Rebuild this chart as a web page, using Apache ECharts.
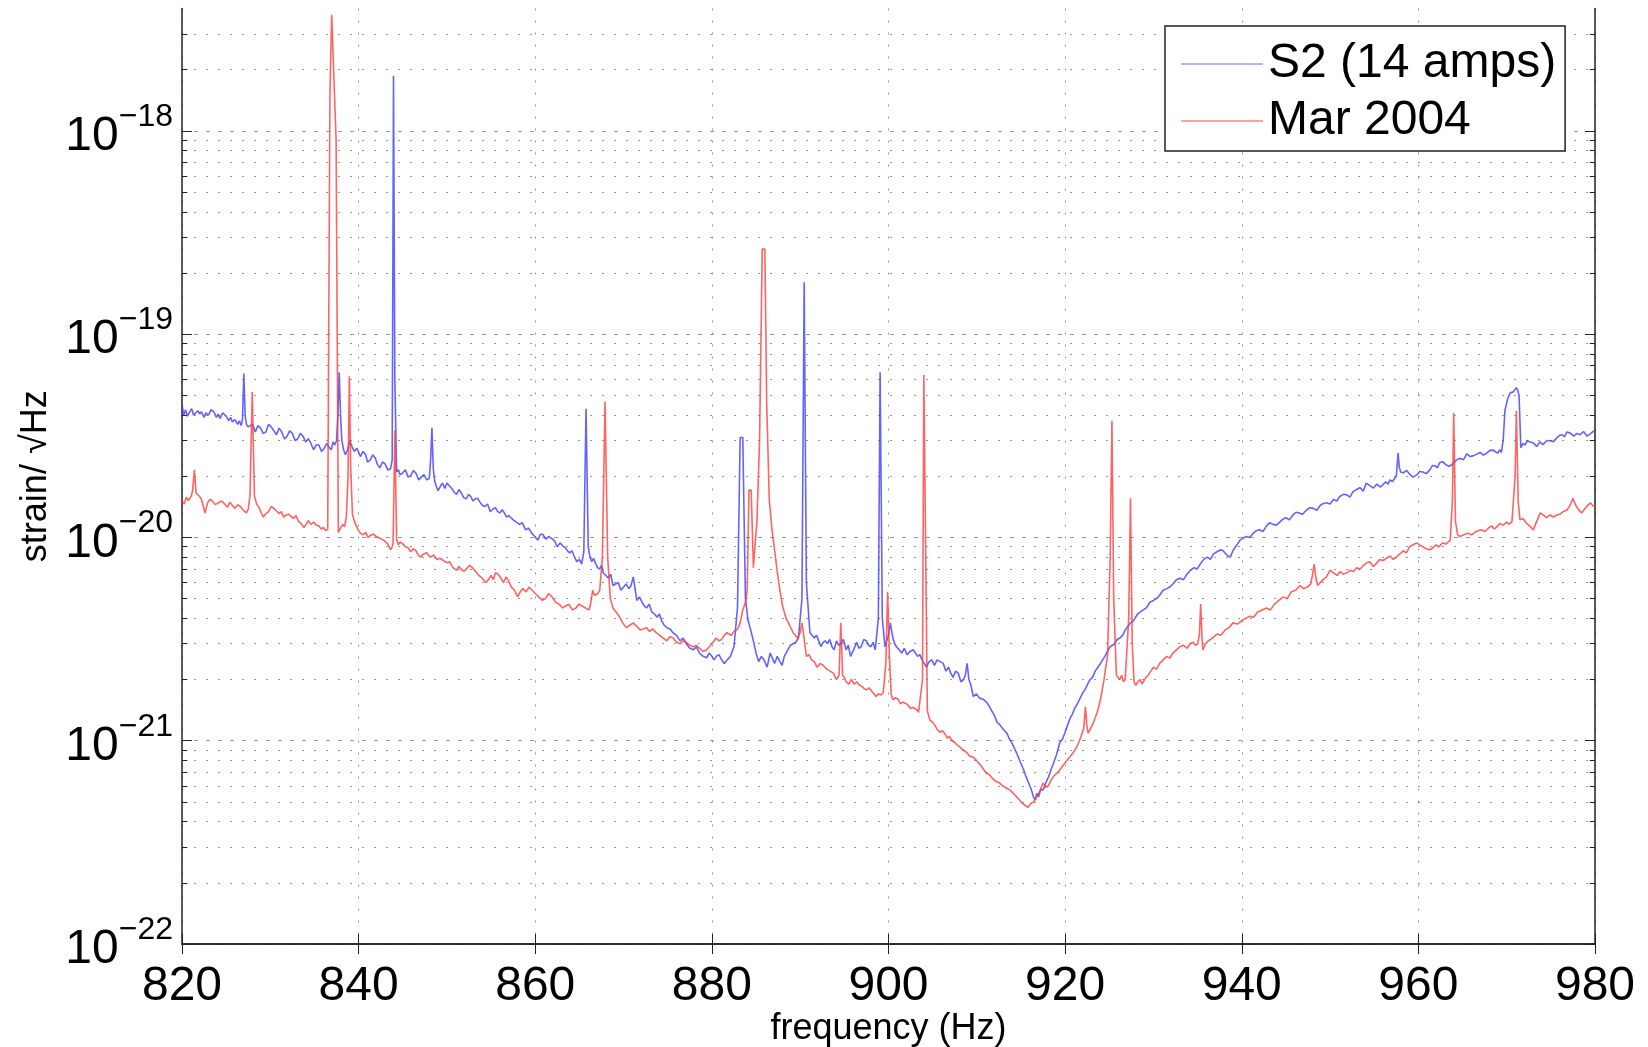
<!DOCTYPE html>
<html>
<head>
<meta charset="utf-8">
<script src="https://cdn.jsdelivr.net/npm/echarts@6/dist/echarts.min.js"></script>
<style>
html,body{margin:0;padding:0;background:#fff;}
#chart{width:1648px;height:1047px;}
</style>
</head>
<body>
<div id="chart"></div>
<script>
// ---- data (frequency in Hz, strain/√Hz in units of 1e-21) ----
const UNIT = 1e-21;
const seriesNames = ['S2 (14 amps)', 'Mar 2004'];
const xTicks = [820, 840, 860, 880, 900, 920, 940, 960, 980];
const yDecades = [-22, -21, -20, -19, -18];

const s2Points = [
[820.0,45],[820.2,40],[820.4,42.5],[820.6,39.5],[820.8,41],[821.1,43],[821.3,40],[821.5,39.5],[821.8,42],[822.0,40.5],
[822.2,41.5],[822.5,39],[822.7,41],[823.0,40],[823.3,42.5],[823.6,41.5],[823.9,39],[824.1,40.5],[824.3,38.5],[824.6,41],
[825.0,39.5],[825.3,37.5],[825.5,39],[825.7,37],[826.0,38],[826.3,36],[826.5,37.5],[826.7,35.5],[826.85,38],[827.0,64],
[827.15,40],[827.3,36],[827.5,35],[827.7,34.5],[828.0,36],[828.3,33],[828.6,35.5],[828.9,34.5],[829.2,32.5],[829.5,33],
[829.8,36],[830.1,35],[830.4,33.5],[830.7,32],[831.0,34.5],[831.3,33],[831.6,30.5],[831.9,31.5],[832.2,33.5],[832.5,32.5],
[832.8,30],[833.1,30.5],[833.4,32.5],[833.7,31.5],[834.0,29.5],[834.3,30.6],[834.6,29],[834.9,27],[835.2,28.5],[835.5,28.5],
[835.8,26.5],[836.1,27.5],[836.4,29],[836.6,28],[836.9,27],[837.1,29.5],[837.3,28.5],[837.5,30],[837.65,40],[837.8,65],
[837.95,40],[838.1,30],[838.3,27],[838.5,25.5],[838.75,27],[839.0,30],[839.25,28],[839.5,26.5],[839.8,27.5],[840.2,25],
[840.5,26.5],[840.8,25.5],[841.0,23.5],[841.3,24],[841.6,25.5],[841.9,24.5],[842.1,23],[842.4,22],[842.7,23.5],[843.0,23],
[843.3,21.5],[843.6,21.7],[843.8,24],[843.95,1866],[844.1,60],[844.3,21],[844.5,21.5],[844.7,20.3],[845.0,20.8],[845.3,21.5],
[845.6,19.8],[845.9,20.2],[846.2,21.3],[846.5,20.7],[846.8,19.2],[847.1,19.8],[847.4,20.4],[847.7,19.2],[848.0,19.5],[848.15,24],
[848.3,34.6],[848.45,22],[848.6,19],[848.8,17.8],[849.0,17],[849.3,18],[849.5,18.5],[849.75,17.4],[850.0,18.5],[850.3,17.9],
[850.6,17.3],[850.85,16.6],[851.1,16.3],[851.35,17.2],[851.6,16.6],[851.9,15.7],[852.2,15.5],[852.45,16.3],[852.7,15.9],[852.95,15.1],
[853.2,15.5],[853.45,15.6],[853.7,15.0],[854.0,14.4],[854.3,14.2],[854.6,14.6],[854.9,13.4],[855.2,13.8],[855.5,14],[855.75,13.4],
[856.0,13.2],[856.25,13.7],[856.5,13.2],[856.75,12.6],[857.0,12.8],[857.25,12.5],[857.5,12.2],[857.85,11.9],[858.2,11.6],[858.55,11.8],
[858.9,10.9],[859.25,11.1],[859.6,10.5],[859.95,10.1],[860.3,9.7],[860.6,10.4],[860.9,10.3],[861.2,9.8],[861.5,10.1],[861.85,9.9],
[862.2,9.6],[862.5,9.0],[862.8,9.4],[863.1,9.1],[863.4,8.9],[863.65,8.6],[863.9,8.4],[864.15,8.6],[864.4,8.1],[864.7,7.6],
[865.0,7.8],[865.25,7.4],[865.5,8.5],[865.75,43],[866.0,9],[866.2,8.0],[866.4,7.6],[866.6,7.9],[866.8,7.5],[867.05,7.1],
[867.3,7.0],[867.5,7.3],[867.7,6.7],[868.0,6.5],[868.3,6.3],[868.55,6.6],[868.8,5.8],[869.1,5.9],[869.4,6.0],[869.7,5.5],
[870.0,5.7],[870.3,5.9],[870.6,5.6],[870.85,5.8],[871.1,6.4],[871.3,5.6],[871.5,4.9],[871.8,5.1],[872.1,4.8],[872.35,4.6],
[872.6,4.5],[872.9,4.7],[873.2,4.3],[873.5,4.2],[873.8,4.05],[874.05,4.2],[874.3,3.9],[874.6,3.7],[874.9,3.6],[875.25,3.55],
[875.6,3.4],[876.0,3.3],[876.4,3.1],[876.75,3.2],[877.1,3.0],[877.5,2.85],[877.9,2.8],[878.25,2.9],[878.6,2.7],[879.0,2.6],
[879.4,2.56],[879.7,2.7],[880.0,2.6],[880.25,2.5],[880.5,2.6],[880.8,2.65],[881.1,2.5],[881.4,2.4],[881.7,2.49],[882.1,2.6],
[882.5,2.9],[882.9,4.5],[883.2,31],[883.5,31],[883.8,5],[884.1,3.9],[884.4,3.5],[884.7,3.1],[885.0,2.7],[885.3,2.45],
[885.6,2.6],[885.9,2.5],[886.25,2.3],[886.6,2.7],[886.85,2.55],[887.1,2.4],[887.4,2.6],[887.7,2.45],[887.95,2.35],[888.2,2.6],
[888.4,2.7],[888.6,2.8],[888.9,2.95],[889.2,3.0],[889.5,3.05],[889.8,3.2],[890.2,5],[890.45,180],[890.7,6],[891.1,3.4],
[891.35,3.3],[891.6,3.2],[891.85,3.3],[892.1,3.1],[892.35,2.9],[892.6,3.05],[892.85,3.1],[893.1,3.0],[893.35,3.15],[893.6,2.9],
[893.85,2.8],[894.1,3.1],[894.35,2.95],[894.6,3.0],[894.9,3.15],[895.2,2.8],[895.45,2.95],[895.7,2.6],[896.05,2.8],[896.4,3.05],
[896.65,2.85],[896.9,2.9],[897.2,3.15],[897.5,3.1],[897.75,2.95],[898.0,2.9],[898.25,3.05],[898.5,2.8],[898.85,4],[899.05,65],
[899.3,4],[899.6,2.9],[899.8,3.1],[900.0,3.3],[900.2,3.8],[900.5,3.2],[900.7,3.0],[900.9,2.9],[901.2,2.8],[901.5,2.7],
[901.8,2.85],[902.1,2.65],[902.45,2.75],[902.8,2.8],[903.05,2.7],[903.3,2.6],[903.55,2.65],[903.8,2.5],[904.05,2.4],[904.3,2.3],
[904.6,2.45],[904.9,2.5],[905.2,2.35],[905.5,2.5],[905.85,2.45],[906.2,2.4],[906.5,2.2],[906.8,2.3],[907.05,2.15],[907.3,2.05],
[907.6,2.2],[907.9,2.15],[908.2,1.95],[908.5,2.0],[908.7,2.1],[908.9,2.4],[909.1,2.0],[909.3,1.9],[909.6,1.65],[909.95,1.7],
[910.3,1.62],[910.7,1.6],[911.1,1.55],[911.4,1.48],[911.7,1.4],[912.0,1.33],[912.3,1.23],[912.6,1.2],[912.9,1.15],[913.15,1.12],
[913.4,1.09],[913.7,1.02],[914.0,0.97],[914.25,0.92],[914.5,0.87],[914.9,0.79],[915.3,0.72],[915.55,0.67],[915.8,0.63],[916.0,0.6],
[916.2,0.57],[916.4,0.53],[916.6,0.51],[916.8,0.55],[917.0,0.53],[917.25,0.58],[917.5,0.57],[917.8,0.62],[918.1,0.66],[918.4,0.72],
[918.7,0.78],[919.05,0.86],[919.4,0.98],[919.7,1.02],[920.0,1.1],[920.3,1.2],[920.6,1.3],[920.85,1.36],[921.1,1.45],[921.4,1.52],
[921.7,1.62],[922.0,1.72],[922.3,1.8],[922.55,1.9],[922.8,1.99],[923.1,2.05],[923.4,2.2],[923.7,2.3],[924.0,2.4],[924.25,2.5],
[924.5,2.6],[924.8,2.75],[925.1,2.9],[925.35,2.95],[925.6,3.0],[925.9,3.15],[926.2,3.2],[926.5,3.3],[926.8,3.5],[927.1,3.65],
[927.4,3.8],[927.65,3.85],[927.9,4.0],[928.2,4.2],[928.5,4.3],[928.85,4.4],[929.2,4.5],[929.6,4.8],[930.0,4.9],[930.35,5.0],
[930.7,5.2],[931.1,5.5],[931.5,5.6],[931.85,5.7],[932.2,5.9],[932.6,6.2],[933.0,6.3],[933.4,6.2],[933.8,6.6],[934.2,6.9],
[934.6,7.1],[934.95,7.0],[935.3,7.4],[935.7,7.8],[936.1,8.0],[936.45,7.8],[936.8,8.3],[937.2,8.5],[937.6,8.7],[937.9,8.6],
[938.2,8.3],[938.45,8.1],[938.7,8.0],[939.0,8.6],[939.3,9.0],[939.55,9.3],[939.8,9.7],[940.15,9.9],[940.5,10.1],[940.9,10.0],
[941.3,10.5],[941.65,10.8],[942.0,10.9],[942.4,10.7],[942.8,11.4],[943.15,11.8],[943.5,11.6],[943.9,11.5],[944.3,11.9],[944.65,12.3],
[945.0,12.5],[945.4,12.2],[945.8,12.9],[946.15,13.3],[946.5,13.2],[946.9,13.0],[947.3,13.6],[947.7,14.0],[948.1,13.9],[948.5,13.6],
[948.9,14.4],[949.25,14.7],[949.6,14.8],[950.0,14.6],[950.4,15.4],[950.75,15.1],[951.1,15.9],[951.5,16.3],[951.9,16.2],[952.25,15.8],
[952.6,16.8],[953.0,17.2],[953.4,17.6],[953.75,16.9],[954.1,18.5],[954.5,18.0],[954.9,17.5],[955.3,18.3],[955.7,17.7],[956.0,18.2],
[956.3,18.8],[956.55,18.3],[956.8,19.2],[957.05,18.8],[957.3,19.5],[957.5,20],[957.7,26],[957.85,22],[958.0,21],[958.3,20.8],
[958.65,21.4],[959.0,20.5],[959.4,19.8],[959.8,20.3],[960.15,21.1],[960.5,21],[960.9,20.6],[961.3,21.5],[961.6,22.6],[961.9,22.5],
[962.15,22.0],[962.4,23.3],[962.75,23.6],[963.1,22.8],[963.5,22.4],[963.9,23],[964.3,24.0],[964.7,24.5],[965.1,24.1],[965.5,25.8],
[965.85,25.0],[966.2,25.2],[966.6,25.7],[967.0,26.2],[967.35,25.4],[967.7,25.9],[968.1,26.8],[968.5,26.9],[968.75,26.3],[969.0,26],
[969.2,27],[969.4,26.2],[969.6,30],[969.8,42],[970.1,48],[970.4,51.5],[970.75,52],[971.1,54.5],[971.25,53],[971.4,50],
[971.6,27.6],[971.85,29],[972.1,28.5],[972.35,30],[972.6,29.5],[973.0,29.2],[973.4,28],[973.75,29.5],[974.1,28.6],[974.5,29.8],
[974.9,30],[975.3,29.6],[975.7,31],[976.0,31.8],[976.3,32],[976.55,31.2],[976.8,33],[977.2,32.6],[977.6,31.5],[977.95,32.5],
[978.3,32],[978.7,33.2],[979.1,31.5],[979.5,32.4],[980.0,33.7]
];

const marPoints = [
[820.0,15.1],[820.25,14.6],[820.5,15.8],[820.7,15.2],[820.9,15.6],[821.05,16],[821.2,17],[821.4,21.5],[821.6,16.5],[821.8,16.2],
[822.0,15.9],[822.2,15.4],[822.4,15.2],[822.6,13.2],[822.75,14],[822.9,14.8],[823.15,15.4],[823.4,15.2],[823.75,14.5],[824.1,14.8],
[824.5,15.1],[824.9,14.5],[825.15,14.1],[825.4,14.9],[825.7,14.4],[826.0,13.9],[826.3,14.5],[826.6,14.2],[826.95,13.6],[827.3,13.2],
[827.5,13.8],[827.7,16],[827.95,52],[828.2,16],[828.45,14.6],[828.7,14.1],[828.95,13.3],[829.2,12.6],[829.5,13.1],[829.8,13.4],
[830.1,14.2],[830.4,13.9],[830.7,13.5],[831.0,13.1],[831.25,13.4],[831.5,12.6],[831.8,12.9],[832.1,13],[832.35,12.7],[832.6,12.4],
[832.9,12.8],[833.2,12],[833.5,11.7],[833.8,11.2],[834.05,11.6],[834.3,12.1],[834.6,11.6],[834.9,11.9],[835.2,11.5],[835.5,11.4],
[835.75,11.0],[836.0,11.2],[836.25,10.8],[836.5,11.0],[836.75,1500],[836.95,3725],[837.15,3725],[837.45,900],[837.7,10.6],[837.95,11.1],
[838.2,11.6],[838.4,11.3],[838.6,12.5],[838.8,20],[838.95,62],[839.1,22],[839.3,13],[839.5,12.1],[839.7,11.5],[839.95,10.9],
[840.2,10.5],[840.5,10.3],[840.8,10.6],[841.05,10.0],[841.3,10.2],[841.65,10.4],[842.0,10.1],[842.4,9.9],[842.8,9.7],[843.05,9.5],
[843.3,9.3],[843.45,9.0],[843.6,8.7],[843.75,8.9],[843.9,9.3],[844.1,33.7],[844.3,9.8],[844.5,9.2],[844.7,9.5],[845.0,9.3],
[845.3,9.0],[845.6,8.9],[845.9,8.5],[846.2,8.8],[846.5,8.6],[846.75,8.2],[847.0,8.0],[847.35,8.3],[847.7,8.4],[848.1,8.0],
[848.5,8.2],[848.85,7.8],[849.2,7.9],[849.6,7.7],[850.0,7.5],[850.3,7.6],[850.6,7.2],[850.85,7.0],[851.1,6.9],[851.35,7.2],
[851.6,7.0],[851.9,6.8],[852.2,7.0],[852.55,7.3],[852.9,7.1],[853.25,6.8],[853.6,6.5],[854.0,6.3],[854.4,6.0],[854.7,6.2],
[855.0,6.5],[855.25,6.2],[855.5,6.7],[855.8,6.6],[856.1,6.3],[856.4,6.0],[856.7,6.4],[857.0,6.1],[857.3,5.7],[857.65,5.5],
[858.0,5.1],[858.3,5.4],[858.6,5.6],[858.95,5.4],[859.3,5.7],[859.65,5.5],[860.0,5.3],[860.4,5.1],[860.8,4.9],[861.15,5.0],
[861.5,5.3],[861.9,5.1],[862.3,4.8],[862.7,4.7],[863.1,4.5],[863.45,4.6],[863.8,4.7],[864.2,4.4],[864.6,4.5],[864.95,4.7],
[865.3,4.6],[865.7,4.5],[866.1,4.4],[866.3,4.8],[866.5,5.5],[866.7,5.2],[866.9,5.1],[867.1,5.3],[867.3,5.5],[867.6,8],
[867.9,46.6],[868.2,8],[868.5,5],[868.8,4.5],[869.15,4.3],[869.5,4.1],[869.9,3.8],[870.3,3.6],[870.7,3.7],[871.1,3.8],
[871.5,3.65],[871.9,3.5],[872.25,3.55],[872.6,3.6],[872.95,3.45],[873.3,3.55],[873.7,3.4],[874.1,3.3],[874.5,3.2],[874.9,3.1],
[875.25,3.25],[875.6,3.2],[876.0,3.05],[876.4,3.0],[876.75,3.1],[877.1,3.05],[877.5,2.95],[877.9,2.9],[878.25,2.95],[878.6,2.85],
[879.0,2.75],[879.4,2.8],[879.7,2.9],[880.0,3.0],[880.25,3.1],[880.5,3.2],[880.8,3.1],[881.1,3.15],[881.4,3.3],[881.7,3.4],
[881.95,3.35],[882.2,3.3],[882.5,3.45],[882.8,3.5],[883.0,3.6],[883.2,3.8],[883.5,4.4],[883.8,4.8],[884.0,5.5],[884.2,17.1],
[884.45,17.1],[884.7,7.1],[885.1,12],[885.4,30],[885.7,262],[886.0,262],[886.2,47],[886.5,15.3],[886.8,11],[887.1,8.7],
[887.4,6.8],[887.7,5.5],[888.0,4.6],[888.4,4.0],[888.8,3.7],[889.2,3.4],[889.45,3.3],[889.7,3.2],[890.0,3.4],[890.2,3.8],
[890.4,3.3],[890.7,2.6],[891.0,2.65],[891.3,2.5],[891.6,2.45],[891.9,2.3],[892.25,2.4],[892.6,2.35],[893.0,2.25],[893.4,2.2],
[893.75,2.15],[894.1,2.0],[894.4,2.1],[894.6,3.8],[894.8,2.1],[895.0,2.05],[895.2,1.95],[895.5,1.9],[895.8,2.0],[896.1,1.9],
[896.4,1.95],[896.7,1.88],[897.0,1.85],[897.25,1.8],[897.5,1.78],[897.8,1.82],[898.1,1.75],[898.35,1.7],[898.6,1.65],[898.85,1.7],
[899.1,1.68],[899.4,1.72],[899.7,2.4],[899.9,5.4],[900.1,2.6],[900.3,1.7],[900.5,1.59],[900.8,1.63],[901.1,1.6],[901.35,1.52],
[901.6,1.55],[901.9,1.53],[902.2,1.5],[902.5,1.44],[902.8,1.46],[903.0,1.43],[903.2,1.42],[903.4,1.38],[903.6,1.37],[903.85,2],
[904.0,63],[904.2,63],[904.4,1.4],[904.7,1.26],[904.95,1.24],[905.2,1.2],[905.5,1.14],[905.8,1.1],[906.1,1.12],[906.4,1.08],
[906.65,1.03],[906.9,1.05],[907.2,1.0],[907.5,0.98],[907.8,0.95],[908.1,0.93],[908.45,0.9],[908.8,0.88],[909.2,0.84],[909.6,0.83],
[909.95,0.8],[910.3,0.77],[910.7,0.73],[911.1,0.69],[911.45,0.68],[911.8,0.65],[912.2,0.63],[912.6,0.62],[912.9,0.6],[913.2,0.59],
[913.5,0.58],[913.8,0.57],[914.15,0.55],[914.5,0.53],[914.85,0.51],[915.2,0.49],[915.5,0.48],[915.8,0.47],[916.1,0.49],[916.4,0.5],
[916.7,0.52],[917.0,0.55],[917.25,0.58],[917.5,0.62],[917.8,0.59],[918.1,0.6],[918.4,0.64],[918.7,0.67],[919.05,0.69],[919.4,0.72],
[919.8,0.76],[920.2,0.8],[920.5,0.83],[920.8,0.86],[921.05,0.89],[921.3,0.93],[921.55,0.98],[921.8,1.05],[922.1,1.15],[922.3,1.47],
[922.45,1.2],[922.6,1.09],[922.85,1.14],[923.1,1.2],[923.35,1.28],[923.6,1.37],[923.8,1.47],[924.0,1.6],[924.2,1.78],[924.4,1.99],
[924.6,2.3],[924.8,2.6],[925.1,8],[925.3,37.5],[925.5,5],[925.8,2.1],[926.0,2.05],[926.2,2.0],[926.4,2.1],[926.6,1.95],
[926.8,2.0],[927.0,2.0],[927.2,4],[927.4,15.6],[927.6,3],[927.8,1.95],[928.0,1.87],[928.25,1.95],[928.5,2.0],[928.7,1.9],
[928.9,1.93],[929.15,2.05],[929.4,2.1],[929.7,2.2],[930.0,2.3],[930.35,2.25],[930.7,2.4],[931.1,2.5],[931.5,2.6],[931.85,2.55],
[932.2,2.7],[932.6,2.8],[933.0,2.9],[933.4,2.95],[933.8,2.85],[934.15,3.0],[934.5,3.05],[934.75,2.95],[935.0,3.0],[935.2,3.3],
[935.35,4.7],[935.5,3.2],[935.6,2.8],[935.9,3.0],[936.2,3.1],[936.7,3.2],[937.2,3.35],[937.65,3.3],[938.1,3.5],[938.55,3.6],
[939.0,3.8],[939.5,3.75],[940.0,3.9],[940.45,4.0],[940.9,4.1],[941.35,4.05],[941.8,4.3],[942.3,4.4],[942.8,4.5],[943.25,4.4],
[943.7,4.7],[944.2,4.9],[944.7,5.1],[945.15,5.0],[945.6,5.4],[946.1,5.5],[946.6,5.8],[947.0,5.6],[947.4,5.7],[947.8,5.9],
[948.0,6.5],[948.2,7.4],[948.4,6.3],[948.6,5.8],[948.9,6.0],[949.2,6.2],[949.6,6.4],[950.0,6.9],[950.4,6.7],[950.8,6.5],
[951.15,6.8],[951.5,6.6],[951.9,6.7],[952.3,6.9],[952.65,6.8],[953.0,7.1],[953.4,7.0],[953.8,7.3],[954.15,7.5],[954.5,7.6],
[954.9,7.2],[955.3,7.5],[955.65,7.8],[956.0,7.7],[956.4,7.9],[956.8,8.1],[957.15,7.8],[957.5,8.0],[957.9,8.3],[958.3,8.6],
[958.65,8.4],[959.0,9.0],[959.4,9.2],[959.8,9.4],[960.15,9.2],[960.5,9.0],[960.9,8.8],[961.3,8.7],[961.65,8.9],[962.0,9.2],
[962.35,9.0],[962.7,9.4],[963.15,9.3],[963.6,9.7],[963.85,15],[964.0,41],[964.2,12],[964.45,10.3],[964.7,10.1],[965.15,10.3],
[965.6,10.5],[966.0,10.3],[966.4,10.6],[966.75,10.8],[967.1,10.9],[967.55,10.7],[968.0,11.2],[968.3,11.4],[968.6,11.0],[968.9,11.3],
[969.2,11.7],[969.6,11.5],[970.0,11.9],[970.3,11.6],[970.6,12.0],[970.95,20],[971.1,42],[971.3,15],[971.5,12.2],[971.85,12.4],
[972.2,11.8],[972.6,11.4],[973.0,10.9],[973.4,12.0],[973.8,13.2],[974.15,12.9],[974.5,12.5],[974.9,12.9],[975.3,12.6],[975.65,12.9],
[976.0,13.0],[976.4,13.4],[976.8,13.6],[977.15,14.3],[977.5,15.6],[977.75,14.6],[978.0,14],[978.25,13.5],[978.5,13.2],[978.75,13.7],
[979.0,14.1],[979.25,14.5],[979.5,14.8],[979.75,14.3],[980.0,14.1]
];

// ---- build ----
const FONT = '"Liberation Sans", Arial, Helvetica, sans-serif';
const X_MIN = xTicks[0], X_MAX = xTicks[xTicks.length - 1], Y_MIN = 1e-22, Y_MAX = 4e-18;
const toSeries = pts => pts.map(p => [p[0], p[1] * UNIT]);
const decadeVals = yDecades.map(e => Math.pow(10, e));

// minor grid (2..9 x 10^n) and minor tick marks on left/right axes
const minorVals = [];
yDecades.forEach(e => { for (let k = 2; k <= 9; k++) { const v = k * Math.pow(10, e); if (v < Y_MAX * 0.999) minorVals.push(v); } });
const tickLen = 0.6;
const gridStyle = { color: '#999', width: 1, type: [2, 10] };
const tickStyle = { color: '#222', width: 1, type: 'solid' };
const markData = [];
minorVals.forEach(v => {
  markData.push([{ coord: [X_MIN, v], lineStyle: gridStyle }, { coord: [X_MAX, v] }]);
  markData.push([{ coord: [X_MIN, v], lineStyle: tickStyle }, { coord: [X_MIN + tickLen, v] }]);
  markData.push([{ coord: [X_MAX - tickLen, v], lineStyle: tickStyle }, { coord: [X_MAX, v] }]);
});

function yLabel(value) {
  const e = Math.round(Math.log10(value));
  return '{b|10}{s|\u2212' + (-e) + '}';
}

const axisLineStyle = { show: true, lineStyle: { color: '#222', width: 1.5 } };
const axisTickStyle = { show: true, inside: true, length: 10, lineStyle: { color: '#222' } };

const chart = echarts.init(document.getElementById('chart'), null, { renderer: 'canvas' });
chart.setOption({
  animation: false,
  backgroundColor: '#ffffff',
  textStyle: { fontFamily: FONT },
  grid: { left: 182, right: 53, top: 8.5, bottom: 103, containLabel: false, outerBoundsMode: 'none' },
  legend: {
    left: 1165, top: 26, orient: 'vertical',
    padding: [14, 9, 6, 16],
    itemWidth: 82, itemHeight: 2, itemGap: 9,
    backgroundColor: '#ffffff', borderColor: '#222', borderWidth: 1.5,
    textStyle: { fontSize: 48, lineHeight: 48, color: '#000', fontFamily: FONT },
    data: [
      { name: seriesNames[0], icon: 'rect', itemStyle: { color: '#b4b4ff' } },
      { name: seriesNames[1], icon: 'rect', itemStyle: { color: '#ffa4a4' } }
    ]
  },
  xAxis: [{
    type: 'value', min: X_MIN, max: X_MAX, interval: 20,
    name: 'frequency (Hz)', nameLocation: 'middle', nameGap: 67, nameMoveOverlap: false,
    nameTextStyle: { fontSize: 36, color: '#000', fontFamily: FONT },
    axisLine: axisLineStyle, axisTick: axisTickStyle,
    axisLabel: { fontSize: 48, color: '#000', margin: 19, fontFamily: FONT, showMinLabel: true, showMaxLabel: true, hideOverlap: false },
    splitLine: { show: true, lineStyle: { color: '#999', width: 1, type: [2, 10] } }
  }, {
    type: 'value', position: 'top', min: X_MIN, max: X_MAX, interval: 20,
    axisLine: axisLineStyle, axisTick: axisTickStyle,
    axisLabel: { show: false }, splitLine: { show: false }
  }],
  yAxis: [{
    type: 'log', logBase: 10, min: Y_MIN, max: Y_MAX,
    name: 'strain/ \u221AHz', nameLocation: 'middle', nameGap: 128, nameMoveOverlap: false,
    nameTextStyle: { fontSize: 36, color: '#000', fontFamily: FONT },
    axisLine: axisLineStyle,
    axisTick: Object.assign({ customValues: decadeVals }, axisTickStyle),
    axisLabel: {
      customValues: decadeVals,
      formatter: yLabel, margin: 9, color: '#000', showMinLabel: true, showMaxLabel: true, hideOverlap: false,
      rich: {
        b: { fontSize: 48, lineHeight: 60, verticalAlign: 'bottom', fontFamily: FONT, color: '#000' },
        s: { fontSize: 32, lineHeight: 32, verticalAlign: 'top', fontFamily: FONT, color: '#000' }
      }
    },
    splitLine: { show: true, lineStyle: { color: '#999', width: 1, type: [4, 8] } }
  }, {
    type: 'log', logBase: 10, min: Y_MIN, max: Y_MAX, position: 'right',
    axisLine: axisLineStyle,
    axisTick: Object.assign({ customValues: decadeVals }, axisTickStyle),
    axisLabel: { show: false }, splitLine: { show: false }
  }],
  series: [
    {
      name: 'minor-grid', type: 'line', data: [], silent: true, z: 1,
      markLine: {
        silent: true, symbol: ['none', 'none'], animation: false, z: 1,
        label: { show: false },
        emphasis: { disabled: true },
        data: markData
      }
    },
    {
      name: seriesNames[0], type: 'line', showSymbol: false, symbol: 'none', z: 3,
      data: toSeries(s2Points),
      lineStyle: { color: '#3c3cff', width: 1.6, opacity: 0.8 },
      itemStyle: { color: '#b4b4ff' }
    },
    {
      name: seriesNames[1], type: 'line', showSymbol: false, symbol: 'none', z: 4,
      data: toSeries(marPoints),
      lineStyle: { color: '#ff3c3c', width: 1.6, opacity: 0.8 },
      itemStyle: { color: '#ffa4a4' }
    }
  ]
});
</script>
</body>
</html>
